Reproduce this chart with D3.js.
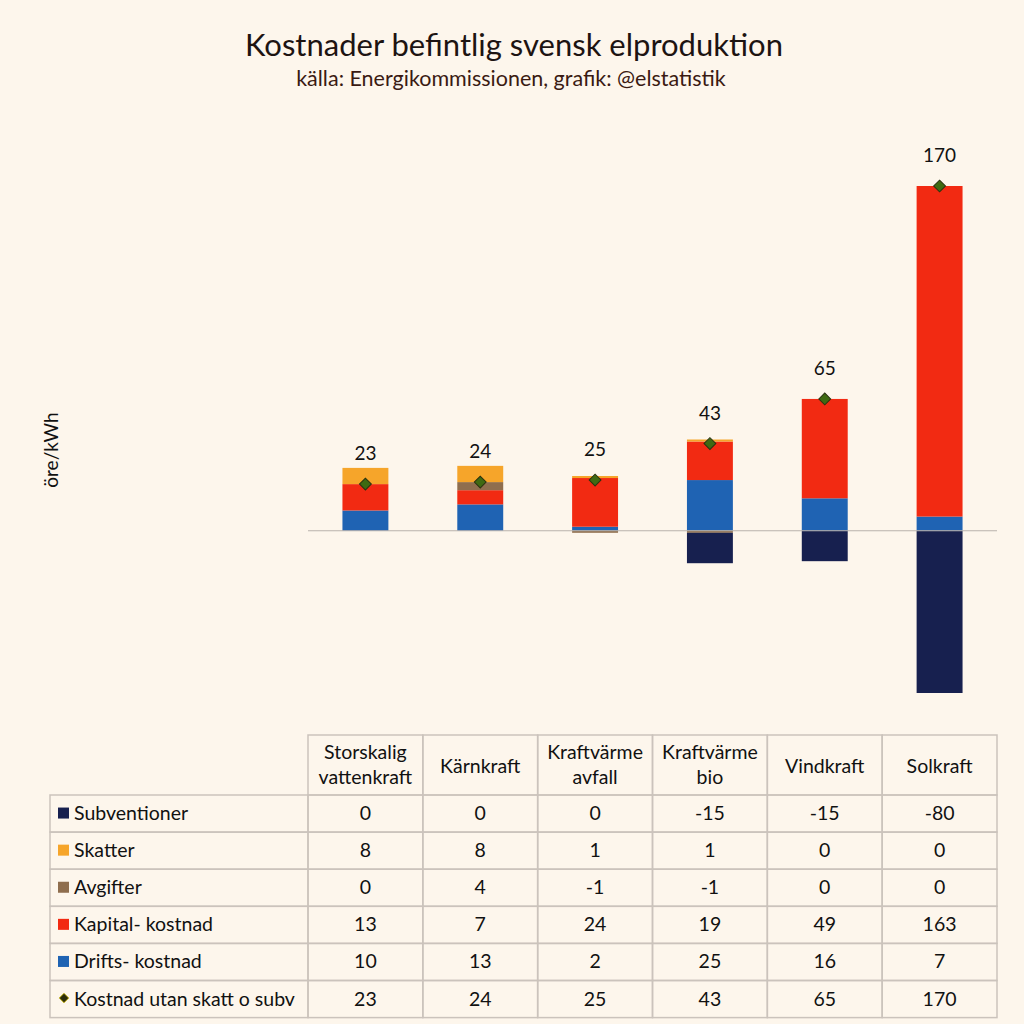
<!DOCTYPE html>
<html>
<head>
<meta charset="utf-8">
<script src="https://cdn.jsdelivr.net/npm/d3@7/dist/d3.min.js"></script>
<style>
  body { margin: 0; background: #fdf6ec; }
  svg { display: block; font-family: Lato, "Open Sans", sans-serif; }
</style>
</head>
<body>
<svg id="chart" width="1024" height="1024"></svg>
<script>
// data
var categories = ["Storskalig vattenkraft", "Kärnkraft", "Kraftvärme avfall", "Kraftvärme bio", "Vindkraft", "Solkraft"];
var headerLines = [["Storskalig", "vattenkraft"], ["Kärnkraft"], ["Kraftvärme", "avfall"], ["Kraftvärme", "bio"], ["Vindkraft"], ["Solkraft"]];
var subventioner = [0, 0, 0, -15, -15, -80];
var skatter = [8, 8, 1, 1, 0, 0];
var avgifter = [0, 4, -1, -1, 0, 0];
var kapital = [13, 7, 24, 19, 49, 163];
var drifts = [10, 13, 2, 25, 16, 7];
var kostnad = [23, 24, 25, 43, 65, 170];

var seriesKeys = ["drifts", "kapital", "avgifter", "skatter", "subventioner"];
var seriesColor = {
  subventioner: "#17204f",
  skatter: "#f6a52a",
  avgifter: "#8f6e4e",
  kapital: "#f22a12",
  drifts: "#1f63b3"
};

var rows = [
  {label: "Subventioner", key: "subventioner", values: subventioner},
  {label: "Skatter", key: "skatter", values: skatter},
  {label: "Avgifter", key: "avgifter", values: avgifter},
  {label: "Kapital- kostnad", key: "kapital", values: kapital},
  {label: "Drifts- kostnad", key: "drifts", values: drifts},
  {label: "Kostnad utan skatt o subv", key: "kostnad", values: kostnad}
];

var table = categories.map(function(c, i) {
  return {cat: c, subventioner: subventioner[i], skatter: skatter[i], avgifter: avgifter[i],
          kapital: kapital[i], drifts: drifts[i], kostnad: kostnad[i]};
});

var svg = d3.select("#chart");
svg.append("rect").attr("width", 1024).attr("height", 1024).attr("fill", "#fdf6ec");

var left = 308, right = 997;
var x = d3.scaleBand().domain(categories).range([left, right]).paddingInner(0.6).paddingOuter(0.3);
var y = d3.scaleLinear().domain([-80, 170]).range([693, 186]);

// titles
svg.append("text").attr("x", 514).attr("y", 56).attr("text-anchor", "middle")
  .attr("font-size", 31).attr("fill", "#1d1412").text("Kostnader befintlig svensk elproduktion");
svg.append("text").attr("x", 511).attr("y", 86).attr("text-anchor", "middle")
  .attr("font-size", 21.5).attr("fill", "#3a1a12").text("källa: Energikommissionen, grafik: @elstatistik");

svg.append("text").attr("transform", "translate(58,450) rotate(-90)")
  .attr("text-anchor", "middle").attr("font-size", 19).attr("fill", "#111").text("öre/kWh");

// stacked bars
var stack = d3.stack().keys(seriesKeys).offset(d3.stackOffsetDiverging);
var layers = stack(table);

svg.append("g").selectAll("g").data(layers).enter().append("g")
  .attr("fill", function(d) { return seriesColor[d.key]; })
  .selectAll("rect").data(function(d) { return d; }).enter().append("rect")
  .attr("x", function(d) { return x(d.data.cat); })
  .attr("width", x.bandwidth())
  .attr("y", function(d) { return y(Math.max(d[0], d[1])); })
  .attr("height", function(d) { return Math.abs(y(d[0]) - y(d[1])); });

// zero line
svg.append("line").attr("x1", left).attr("x2", right).attr("y1", y(0)).attr("y2", y(0))
  .attr("stroke", "#b9b2ad").attr("stroke-width", 1);

// total markers (square turned 45 degrees)
var diamond = d3.symbol().type(d3.symbolSquare).size(70);
svg.append("g").selectAll("path").data(table).enter().append("path")
  .attr("d", diamond)
  .attr("transform", function(d) { return "translate(" + (x(d.cat) + x.bandwidth() / 2) + "," + y(d.kostnad) + ") rotate(45)"; })
  .attr("fill", "#3f6a12").attr("stroke", "#2a3210").attr("stroke-width", 1);

svg.append("g").selectAll("text").data(table).enter().append("text")
  .attr("x", function(d) { return x(d.cat) + x.bandwidth() / 2; })
  .attr("y", function(d) { return y(d.kostnad) - 24; })
  .attr("text-anchor", "middle").attr("font-size", 19).attr("fill", "#111")
  .text(function(d) { return d.kostnad; });

// data table
var gridColor = "#cbc3bc";
var tbl = svg.append("g");
var headTop = 735, headBottom = 795, rowH = 37.1, labelLeft = 50;
var colEdges = categories.map(function(c) { return x(c) - x.step() * x.paddingInner() / 2; });
colEdges.push(right);
colEdges[0] = left;

// header cells
tbl.append("g").selectAll("rect").data(categories).enter().append("rect")
  .attr("x", function(d, i) { return colEdges[i]; })
  .attr("y", headTop)
  .attr("width", function(d, i) { return colEdges[i + 1] - colEdges[i]; })
  .attr("height", headBottom - headTop)
  .attr("fill", "none").attr("stroke", gridColor).attr("stroke-width", 1.5);

tbl.append("g").selectAll("text").data(headerLines).enter().append("text")
  .attr("x", function(d, i) { return x(categories[i]) + x.bandwidth() / 2; })
  .attr("y", function(d) { return d.length === 2 ? 759 : 773; })
  .attr("text-anchor", "middle").attr("font-size", 19.5).attr("fill", "#111")
  .selectAll("tspan").data(function(d) { return d; }).enter().append("tspan")
  .attr("x", function() { return d3.select(this.parentNode).attr("x"); })
  .attr("dy", function(d, i) { return i === 0 ? 0 : 25; })
  .text(function(d) { return d; });

var rowG = tbl.selectAll("g.row").data(rows).enter().append("g").attr("class", "row")
  .attr("transform", function(d, i) { return "translate(0," + (headBottom + i * rowH) + ")"; });

rowG.append("rect").attr("x", labelLeft).attr("width", left - labelLeft).attr("height", rowH)
  .attr("fill", "none").attr("stroke", gridColor).attr("stroke-width", 1.5);

rowG.selectAll("rect.cell").data(categories).enter().append("rect").attr("class", "cell")
  .attr("x", function(d, i) { return colEdges[i]; })
  .attr("width", function(d, i) { return colEdges[i + 1] - colEdges[i]; })
  .attr("height", rowH)
  .attr("fill", "none").attr("stroke", gridColor).attr("stroke-width", 1.5);

rowG.each(function(r) {
  var g = d3.select(this);
  if (r.key === "kostnad") {
    g.append("path").attr("d", d3.symbol().type(d3.symbolSquare).size(45))
      .attr("transform", "translate(64," + (rowH / 2 - 1) + ") rotate(45)")
      .attr("fill", "#2c2e0c").attr("stroke", "#c9b400").attr("stroke-width", 0.8);
  } else {
    g.append("rect").attr("x", 58).attr("y", rowH / 2 - 6).attr("width", 11).attr("height", 11)
      .attr("fill", seriesColor[r.key]);
  }
  g.append("text").attr("x", 74).attr("y", rowH / 2 + 6.5).attr("font-size", 19.5).attr("fill", "#111")
    .text(r.label);
  g.selectAll("text.val").data(r.values).enter().append("text").attr("class", "val")
    .attr("x", function(d, i) { return x(categories[i]) + x.bandwidth() / 2; })
    .attr("y", rowH / 2 + 6.5).attr("text-anchor", "middle").attr("font-size", 19.5).attr("fill", "#111")
    .text(function(d) { return d; });
});
</script>
</body>
</html>
